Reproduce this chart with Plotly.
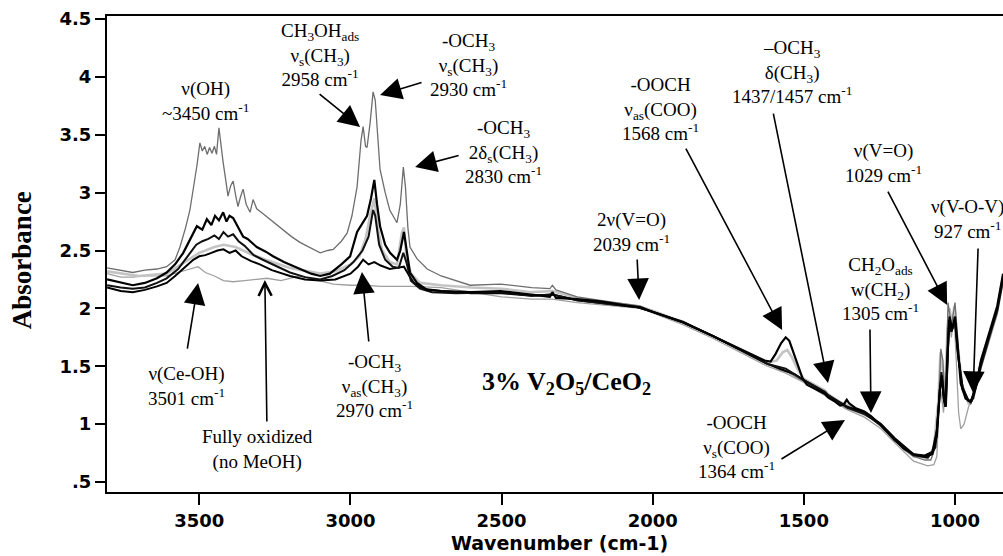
import plotly.graph_objects as go

# ---------------- data ----------------
wn_s1 = [3805, 3760, 3720, 3680, 3640, 3608, 3580, 3564, 3545, 3531, 3518, 3508, 3498, 3490, 3482, 3474, 3466, 3458,
         3450, 3443, 3435, 3428, 3421, 3412, 3405, 3396, 3388, 3380, 3372, 3364, 3355, 3345, 3332, 3322, 3310, 3290,
         3276, 3250, 3223, 3195, 3167, 3130, 3100, 3075, 3057, 3030, 3011, 2995, 2978, 2965, 2958, 2950, 2945, 2935,
         2925, 2918, 2910, 2902, 2885, 2870, 2846, 2835, 2825, 2818, 2810, 2803, 2780, 2746, 2700, 2650, 2604, 2504,
         2400, 2340, 2332, 2320, 2250, 2173, 2100, 2040, 2000, 1900, 1800, 1700, 1667, 1620, 1580, 1554, 1500, 1450,
         1420, 1380, 1356, 1300, 1278, 1245, 1200, 1170, 1137, 1100, 1080, 1065, 1055, 1047, 1040, 1035, 1030, 1023,
         1012, 1000, 990, 981, 965, 948, 930, 914, 900, 881, 860, 841]
ab_s1 = [2.35, 2.33, 2.31, 2.33, 2.34, 2.36, 2.42, 2.53, 2.70, 2.85, 3.05, 3.23, 3.43, 3.36, 3.40, 3.33, 3.39, 3.34,
         3.40, 3.33, 3.56, 3.40, 3.26, 3.10, 2.97, 3.06, 3.10, 2.98, 2.88, 2.96, 3.03, 2.90, 2.83, 2.94, 2.86, 2.82,
         2.79, 2.73, 2.68, 2.62, 2.57, 2.52, 2.48, 2.50, 2.51, 2.58, 2.65, 2.80, 3.05, 3.45, 3.57, 3.40, 3.39, 3.60,
         3.87, 3.80, 3.50, 3.20, 3.00, 2.85, 2.74, 2.90, 3.22, 3.05, 2.70, 2.53, 2.43, 2.34, 2.28, 2.24, 2.20, 2.21,
         2.18, 2.17, 2.20, 2.16, 2.10, 2.07, 2.04, 2.02, 1.97, 1.89, 1.76, 1.63, 1.59, 1.52, 1.47, 1.45, 1.37, 1.29,
         1.25, 1.18, 1.14, 1.08, 1.05, 0.98, 0.86, 0.78, 0.72, 0.69, 0.69, 0.80, 1.10, 1.65, 1.55, 1.25, 1.35, 2.05,
         1.85, 2.05, 1.70, 1.40, 1.25, 1.17, 1.35, 1.56, 1.68, 1.84, 2.00, 2.28]

wn_s2 = [3805, 3760, 3720, 3680, 3640, 3608, 3580, 3553, 3530, 3508, 3490, 3475, 3460, 3448, 3435, 3421, 3410, 3400,
         3388, 3372, 3355, 3340, 3310, 3280, 3256, 3220, 3167, 3130, 3100, 3068, 3030, 3001, 2978, 2958, 2945, 2932,
         2921, 2912, 2902, 2885, 2869, 2846, 2835, 2823, 2815, 2803, 2780, 2746, 2700, 2600, 2504, 2400, 2340, 2332,
         2320, 2250, 2173, 2100, 2040, 2000, 1900, 1800, 1700, 1667, 1630, 1610, 1595, 1575, 1560, 1548, 1535, 1520,
         1505, 1490, 1460, 1440, 1430, 1420, 1400, 1380, 1368, 1358, 1350, 1330, 1300, 1278, 1245, 1200, 1170, 1137,
         1100, 1075, 1060, 1050, 1043, 1037, 1032, 1025, 1018, 1010, 1000, 992, 981, 965, 948, 930, 914, 900, 881,
         860, 841]
ab_s2 = [2.25, 2.22, 2.20, 2.22, 2.26, 2.31, 2.38, 2.48, 2.60, 2.71, 2.68, 2.77, 2.72, 2.80, 2.76, 2.83, 2.75, 2.80,
         2.78, 2.70, 2.62, 2.60, 2.53, 2.49, 2.45, 2.40, 2.34, 2.30, 2.28, 2.30, 2.38, 2.45, 2.66, 2.74, 2.80, 2.95,
         3.11, 2.90, 2.71, 2.55, 2.48, 2.42, 2.50, 2.66, 2.50, 2.31, 2.22, 2.16, 2.15, 2.14, 2.15, 2.12, 2.10, 2.14,
         2.09, 2.08, 2.06, 2.03, 2.01, 1.97, 1.88, 1.76, 1.64, 1.60, 1.55, 1.54, 1.60, 1.70, 1.75, 1.72, 1.62, 1.50,
         1.40, 1.34, 1.30, 1.27, 1.26, 1.23, 1.20, 1.16, 1.17, 1.21, 1.18, 1.14, 1.11, 1.07, 0.99, 0.87, 0.79, 0.74,
         0.72, 0.74, 0.90, 1.30, 1.42, 1.22, 1.15, 1.60, 1.93, 1.82, 1.93, 1.70, 1.35, 1.22, 1.19, 1.33, 1.55, 1.67,
         1.83, 2.02, 2.30]

wn_s3 = [3805, 3760, 3720, 3680, 3640, 3608, 3570, 3540, 3510, 3490, 3470, 3450, 3435, 3420, 3405, 3388, 3370, 3350,
         3320, 3290, 3250, 3200, 3150, 3100, 3060, 3020, 2990, 2960, 2940, 2925, 2918, 2905, 2885, 2860, 2840, 2825,
         2815, 2800, 2770, 2730, 2650, 2500, 2400, 2332, 2250, 2150, 2050, 2000, 1900, 1800, 1700, 1620, 1560, 1500,
         1430, 1420, 1380, 1356, 1300, 1245, 1200, 1137, 1090, 1065, 1052, 1045, 1038, 1030, 1020, 1012, 1000, 990,
         975, 955, 940, 914, 881, 860, 841]
ab_s3 = [2.20, 2.18, 2.17, 2.18, 2.22, 2.26, 2.34, 2.44, 2.55, 2.58, 2.60, 2.63, 2.60, 2.66, 2.62, 2.64, 2.58, 2.54,
         2.46, 2.42, 2.37, 2.31, 2.27, 2.25, 2.28, 2.33, 2.40, 2.50, 2.62, 2.85, 2.80, 2.55, 2.42, 2.36, 2.35, 2.48,
         2.40, 2.24, 2.17, 2.14, 2.13, 2.14, 2.11, 2.12, 2.07, 2.04, 2.01, 1.97, 1.88, 1.76, 1.63, 1.52, 1.48, 1.38,
         1.28, 1.25, 1.18, 1.14, 1.09, 0.99, 0.86, 0.73, 0.71, 0.80, 1.20, 1.45, 1.25, 1.20, 1.85, 1.80, 1.88, 1.60,
         1.30, 1.20, 1.22, 1.50, 1.80, 1.98, 2.25]

wn_s4 = [3805, 3760, 3720, 3680, 3640, 3608, 3580, 3550, 3520, 3500, 3480, 3460, 3440, 3420, 3400, 3380, 3360, 3330,
         3300, 3260, 3200, 3150, 3100, 3050, 3000, 2975, 2958, 2940, 2921, 2900, 2870, 2846, 2823, 2805, 2790, 2760,
         2700, 2600, 2500, 2400, 2332, 2250, 2150, 2050, 2000, 1900, 1800, 1700, 1620, 1570, 1530, 1500, 1460, 1420,
         1380, 1356, 1300, 1245, 1200, 1137, 1100, 1075, 1060, 1050, 1044, 1036, 1030, 1020, 1012, 1000, 990, 975,
         955, 945, 914, 881, 860, 841]
ab_s4 = [2.18, 2.15, 2.14, 2.16, 2.19, 2.22, 2.28, 2.35, 2.42, 2.45, 2.46, 2.48, 2.50, 2.51, 2.48, 2.50, 2.45, 2.41,
         2.38, 2.33, 2.28, 2.25, 2.24, 2.25, 2.30, 2.36, 2.42, 2.38, 2.40, 2.37, 2.34, 2.35, 2.36, 2.28, 2.22, 2.17,
         2.15, 2.13, 2.13, 2.11, 2.12, 2.07, 2.04, 2.01, 1.97, 1.88, 1.76, 1.63, 1.52, 1.47, 1.43, 1.38, 1.32, 1.25,
         1.19, 1.15, 1.10, 1.00, 0.88, 0.74, 0.73, 0.76, 0.95, 1.30, 1.42, 1.20, 1.15, 1.90, 1.80, 1.90, 1.60, 1.32,
         1.20, 1.20, 1.53, 1.82, 2.00, 2.27]

wn_s5 = [3805, 3700, 3608, 3550, 3500, 3450, 3420, 3380, 3330, 3280, 3200, 3100, 3050, 3000, 2970, 2950, 2935, 2921,
         2910, 2895, 2870, 2846, 2830, 2823, 2815, 2800, 2770, 2700, 2600, 2500, 2400, 2332, 2250, 2150, 2050, 2000,
         1900, 1800, 1700, 1620, 1590, 1570, 1555, 1540, 1520, 1500, 1430, 1420, 1380, 1360, 1300, 1245, 1200, 1137,
         1090, 1070, 1055, 1048, 1040, 1033, 1025, 1018, 1010, 1002, 990, 975, 955, 940, 914, 881, 860, 841]
ab_s5 = [2.32, 2.28, 2.30, 2.40, 2.48, 2.53, 2.55, 2.53, 2.47, 2.42, 2.35, 2.30, 2.32, 2.38, 2.45, 2.60, 2.80, 2.95,
         2.70, 2.50, 2.40, 2.38, 2.65, 2.70, 2.45, 2.30, 2.22, 2.20, 2.18, 2.17, 2.14, 2.15, 2.09, 2.05, 2.02, 1.98,
         1.88, 1.76, 1.63, 1.53, 1.55, 1.62, 1.64, 1.58, 1.47, 1.39, 1.29, 1.26, 1.19, 1.17, 1.10, 1.00, 0.87, 0.72,
         0.71, 0.80, 1.20, 1.62, 1.45, 1.30, 1.80, 2.00, 1.85, 2.02, 1.65, 1.30, 1.18, 1.22, 1.55, 1.83, 2.02, 2.28]

wn_ox = [3805, 3760, 3720, 3680, 3640, 3608, 3570, 3540, 3520, 3504, 3480, 3450, 3420, 3388, 3350, 3300, 3276, 3230,
         3200, 3167, 3120, 3057, 3000, 2950, 2900, 2850, 2800, 2700, 2600, 2500, 2400, 2332, 2250, 2173, 2100, 2040,
         2000, 1900, 1800, 1700, 1620, 1560, 1500, 1420, 1360, 1300, 1245, 1200, 1137, 1090, 1070, 1060, 1055, 1050,
         1045, 1038, 1030, 1022, 1012, 1003, 995, 988, 981, 970, 955, 940, 914, 881, 860, 841]
ab_ox = [2.30, 2.27, 2.27, 2.28, 2.28, 2.28, 2.31, 2.33, 2.35, 2.36, 2.31, 2.28, 2.24, 2.23, 2.24, 2.25, 2.26, 2.24,
         2.26, 2.28, 2.25, 2.21, 2.20, 2.20, 2.19, 2.19, 2.19, 2.18, 2.14, 2.10, 2.08, 2.08, 2.05, 2.03, 2.01, 2.00,
         1.96, 1.86, 1.74, 1.61, 1.50, 1.44, 1.36, 1.23, 1.13, 1.06, 0.96, 0.84, 0.68, 0.64, 0.65, 0.72, 1.00, 1.35,
         1.25, 1.10, 1.40, 1.95, 1.75, 1.95, 1.50, 1.10, 0.96, 1.00, 1.15, 1.22, 1.48, 1.78, 1.95, 2.22]

x_tickvals = [3500, 3000, 2500, 2000, 1500, 1000]
x_ticktext = ["3500", "3000", "2500", "2000", "1500", "1000"]
y_tickvals = [0.5, 1, 1.5, 2, 2.5, 3, 3.5, 4, 4.5]
y_ticktext = [".5", "1", "1.5", "2", "2.5", "3", "3.5", "4", "4.5"]

# ---------------- figure ----------------
fig = go.Figure()
series = [
    (wn_ox, ab_ox, "#a0a0a0", 1.3),
    (wn_s5, ab_s5, "#c4c4c4", 2.6),
    (wn_s1, ab_s1, "#6e6e6e", 1.3),
    (wn_s4, ab_s4, "#000000", 2.0),
    (wn_s3, ab_s3, "#111111", 2.0),
    (wn_s2, ab_s2, "#000000", 2.2),
]
for xs, ys, col, w in series:
    fig.add_trace(go.Scatter(x=xs, y=ys, mode="lines", line=dict(color=col, width=w),
                             showlegend=False, hoverinfo="skip", cliponaxis=False))

SERIF = "Liberation Serif, Times New Roman, serif"
AF = dict(family=SERIF, size=19, color="black")

texts = [
    ("ν(OH)<br>~3450 cm<sup>-1</sup>", 3481, 3.79),
    ("CH<sub>3</sub>OH<sub>ads</sub><br>ν<sub>s</sub>(CH<sub>3</sub>)<br>2958 cm<sup>-1</sup>", 3101, 4.19),
    ("-OCH<sub>3</sub><br>ν<sub>s</sub>(CH<sub>3</sub>)<br>2930 cm<sup>-1</sup>", 2608, 4.10),
    ("-OCH<sub>3</sub><br>2δ<sub>s</sub>(CH<sub>3</sub>)<br>2830 cm<sup>-1</sup>", 2495, 3.35),
    ("2ν(V=O)<br>2039 cm<sup>-1</sup>", 2069, 2.66),
    ("-OOCH<br>ν<sub>as</sub>(COO)<br>1568 cm<sup>-1</sup>", 1973, 3.72),
    ("–OCH<sub>3</sub><br>δ(CH<sub>3</sub>)<br>1437/1457 cm<sup>-1</sup>", 1539, 4.04),
    ("ν(V=O)<br>1029 cm<sup>-1</sup>", 1238, 3.26),
    ("ν(V-O-V)<br>927 cm<sup>-1</sup>", 960, 2.77),
    ("CH<sub>2</sub>O<sub>ads</sub><br>w(CH<sub>2</sub>)<br>1305 cm<sup>-1</sup>", 1248, 2.17),
    ("ν(Ce-OH)<br>3501 cm<sup>-1</sup>", 3541, 1.33),
    ("Fully oxidized<br>(no MeOH)", 3309, 0.78),
    ("-OCH<sub>3</sub><br>ν<sub>as</sub>(CH<sub>3</sub>)<br>2970 cm<sup>-1</sup>", 2922, 1.33),
    ("-OOCH<br>ν<sub>s</sub>(COO)<br>1364 cm<sup>-1</sup>", 1724, 0.80),
]
annotations = []
for t, x, y in texts:
    annotations.append(dict(text=t, x=x, y=y, xref="x", yref="y", showarrow=False,
                            font=AF, xanchor="center", yanchor="middle", align="center"))

# arrows: head (data coords), tail offset (pixels)
arrows = [
    (2968, 3.567, -42, -34, 2),
    (2902, 3.843, 43, -13, 2),
    (2786, 3.221, 45, -12, 2),
    (2045, 2.072, -2, -42, 2),
    (1572, 1.813, -97, -183, 2),
    (1420, 1.355, -55, -271, 2),
    (1026, 2.029, -60, -115, 2),
    (940, 1.269, 5, -146, 2),
    (1278, 1.096, -1, -85, 2),
    (3504, 2.219, -11, 67, 2),
    (3283, 2.245, 2, 143, 5),
    (2962, 2.314, 7, 71, 2),
    (1364, 1.036, -65, 40, 2),
]
for x, y, ax, ay, head in arrows:
    annotations.append(dict(text="", x=x, y=y, xref="x", yref="y", ax=ax, ay=ay,
                            showarrow=True, arrowhead=head, arrowsize=2.7 if head == 2 else 1.6,
                            arrowwidth=1.6, arrowcolor="black", standoff=0))

annotations.append(dict(text="3% V<sub>2</sub>O<sub>5</sub>/CeO<sub>2</sub>", x=2284, y=1.355,
                        xref="x", yref="y", showarrow=False,
                        font=dict(family=SERIF, size=26, color="black", weight="bold"),
                        xanchor="center", yanchor="middle"))
annotations.append(dict(text="Absorbance", x=-0.0949, y=0.487, xref="paper", yref="paper",
                        showarrow=False, textangle=-90,
                        font=dict(family=SERIF, size=27, color="black", weight="bold"),
                        xanchor="center", yanchor="middle"))
annotations.append(dict(text="Wavenumber (cm-1)", x=0.505, y=-0.107, xref="paper", yref="paper",
                        showarrow=False,
                        font=dict(family="DejaVu Sans", size=19, color="black", weight="bold"),
                        xanchor="center", yanchor="middle"))

TICKF = dict(family="DejaVu Sans", size=18, color="black", weight="bold")
fig.update_layout(
    width=1003, height=556,
    margin=dict(l=107, r=0, t=16, b=64),
    paper_bgcolor="white", plot_bgcolor="white",
    annotations=annotations,
    xaxis=dict(range=[3805.3, 841.2], autorange=False, tickvals=x_tickvals, ticktext=x_ticktext,
               ticks="outside", ticklen=11, tickwidth=2, tickcolor="black",
               showline=True, linecolor="black", linewidth=2, mirror=True,
               showgrid=False, zeroline=False, tickfont=TICKF),
    yaxis=dict(range=[0.4136, 4.526], autorange=False, tickvals=y_tickvals, ticktext=y_ticktext,
               ticks="outside", ticklen=10, tickwidth=2, tickcolor="black",
               showline=True, linecolor="black", linewidth=2, mirror=False,
               showgrid=False, zeroline=False, tickfont=TICKF),
)

fig.write_html("out.html")
